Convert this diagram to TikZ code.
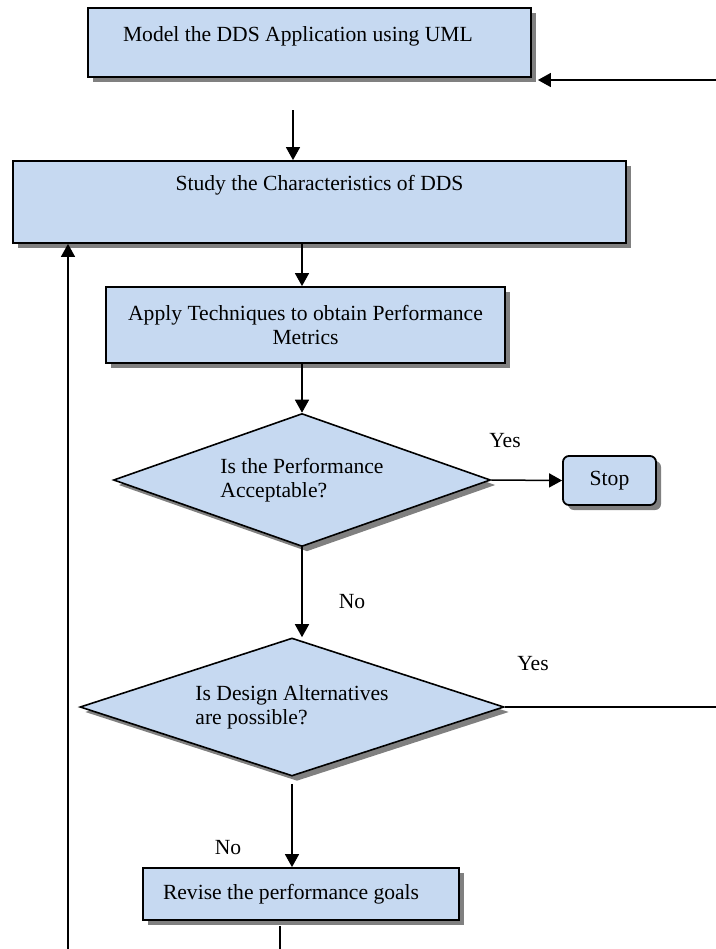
\documentclass[tikz,border=0pt]{standalone}
\usepackage{fontspec}
\setmainfont{Liberation Serif}
\usepackage{tikz}
\usetikzlibrary{positioning,arrows.meta,shapes.geometric,shadows}
\definecolor{boxblue}{HTML}{C6D9F1}
\definecolor{shade}{HTML}{808080}
\tikzset{
  proc/.style={rectangle, draw=black, line width=0.9pt, fill=boxblue, inner sep=0pt, font=\fontsize{10.8}{11.8}\selectfont, drop shadow={shadow xshift=2.5pt, shadow yshift=-2.5pt, fill=shade, opacity=1}},
  dec/.style ={diamond, draw=black, line width=0.8pt, fill=boxblue, inner sep=0pt, align=left, font=\fontsize{10.8}{11.8}\selectfont, drop shadow={shadow xshift=2.5pt, shadow yshift=-2.5pt, fill=shade, opacity=1}},
  term/.style={proc, rounded corners=3pt},
  edge/.style={-{Triangle[length=6.5pt, width=7pt]}, line width=0.75pt},
  link/.style={line width=0.75pt},
  lbl/.style ={font=\fontsize{10.8}{11.8}\selectfont, inner sep=0pt},
}

\begin{document}
\begin{tikzpicture}[x=0.5pt, y=-0.5pt]
  \useasboundingbox (0,0) rectangle (716,949);
  \node[proc, inner xsep=17.5pt, text height=16.5pt, text depth=18pt] (Model) at (309.5,42.5) {\makebox[186.5pt][l]{Model the DDS Application using UML}};
  \node[proc, minimum width=306.5pt, text height=14.5pt, text depth=26.5pt] (Study) at (319.5,202) {Study the Characteristics of DDS};
  \node[proc, align=center, minimum width=199.5pt, minimum height=38pt] (Apply) at (305.5,325) {Apply Techniques to obtain Performance\\Metrics};
  \node[dec, aspect=2.8, minimum width=188.5pt, minimum height=66.5pt] (D1) at (302,480) {Is the Performance\\Acceptable?};
  \node[term, minimum width=46.5pt, minimum height=24.5pt] (Stop) at (609.5,480.5) {Stop};
  \node[dec, aspect=3.05, minimum width=212pt, minimum height=69pt] (D2) at (292,707) {Is Design Alternatives\\are possible?};
  \node[proc, inner xsep=10pt, minimum height=26pt] (Revise) at (301,894) {\makebox[138pt][l]{Revise the performance goals}};

  \node[lbl] (yes1) at (505,441) {Yes};
  \node[lbl] (no1)  at (352,602) {No};
  \node[lbl] (yes2) at (533,664) {Yes};
  \node[lbl] (no2)  at (228,848) {No};

  \coordinate (modelin) at (716,80);
  \coordinate (studyin) at (293,110);
  \coordinate (yesout)  at (716,707);
  \coordinate (revout)  at (280,949);
  \coordinate (loopin)  at (68,949);

  \draw[edge] (modelin) -- ([xshift=3pt]modelin -| Model.east);
  \draw[edge] (studyin) -- (studyin |- Study.north);
  \draw[edge] (D1.north |- Study.south) -- (D1.north |- Apply.north);
  \draw[edge] (Apply.south -| D1.north) -- (D1.north);
  \draw[edge] (D1.east) -- (Stop.west);
  \draw[edge] (D1.south) -- (D1.south |- D2.north);
  \draw[link] (D2.east) -- (yesout);
  \draw[edge] ([yshift=-3.5pt]D2.south) -- (D2.south |- Revise.north);
  \draw[link] ([yshift=-2.5pt]revout |- Revise.south) -- (revout);
  \draw[edge] (loopin) -- (loopin |- Study.south);
\end{tikzpicture}
\end{document}
